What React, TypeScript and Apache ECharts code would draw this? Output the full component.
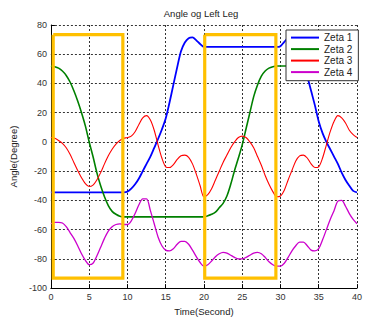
import React, { useEffect, useRef } from "react";
import * as echarts from "echarts";

const TITLE = "Angle og Left Leg";
const SERIES_NAMES = ["Zeta 1", "Zeta 2", "Zeta 3", "Zeta 4"];
const X_TICKS = { min: 0, max: 40, interval: 5 };
const Y_TICKS = { min: -100, max: 80, interval: 20 };

// sample times, every 0.5 s from 0 to 40
const TIME: number[] = Array.from({ length: 81 }, (_, i) => i * 0.5);

const ZETA1 = [
  -34.5, -34.5, -34.5, -34.5, -34.5, -34.5, -34.5, -34.5, -34.5, -34.5,
  -34.5, -34.5, -34.5, -34.5, -34.5, -34.5, -34.5, -34.5, -34.5, -34.5,
  -34, -32, -29, -25, -20, -15, -10, -4, 2, 8.5,
  16, 27, 39, 51, 62, 68, 71, 71.5, 69.5, 67,
  65, 65, 65, 65, 65, 65, 65, 65, 65, 65,
  65, 65, 65, 65, 65, 65, 65, 65, 65, 65,
  65.5, 68.5, 71, 71.5, 68, 62, 54, 45, 35, 25,
  14, 6, 0, -5, -10, -15, -21, -26, -30, -33.5,
  -34.5,
];

const ZETA2 = [
  52, 51.5, 50.5, 48.5, 45.5, 41, 35, 28, 20, 11,
  0, -10, -21, -30, -37.5, -43.5, -47.5, -49.5, -50.8, -51.3,
  -51.3, -51.3, -51.3, -51.3, -51.3, -51.3, -51.3, -51.3, -51.3, -51.3,
  -51.3, -51.3, -51.3, -51.3, -51.3, -51.3, -51.3, -51.3, -51.3, -51.3,
  -51.3, -50.5, -49.5, -48, -45, -42, -37, -29, -19.5, -11,
  -2, 9, 20, 31, 39, 45, 48.5, 50.5, 51.5, 52,
  52, 52, 52, 52, 52, 52, 52, 52, 52, 52,
  52, 52, 52, 52, 52, 52, 52, 52, 52, 52,
  52,
];

const ZETA3 = [
  3, 2.5, 1, -1, -4, -8.5, -14, -19.5, -24.5, -28.5,
  -30.5, -29.5, -26, -21, -15, -9.5, -5, -1.5, 1, 2.5,
  3, 4, 7, 12, 16.5, 18, 15, 8, -2, -11,
  -17, -17.5, -15.5, -12, -9.5, -9, -10.5, -15, -22, -30,
  -37.5, -36, -32, -26, -20, -14, -9, -4, 0, 3,
  4, 3, 0, -4, -10, -16, -23, -29, -34, -37.5,
  -37, -33, -26, -19.5, -13, -9.5, -9, -11, -15, -17.5,
  -17, -11, -2, 7, 14, 18, 16.5, 13, 8, 5,
  3,
];

const ZETA4 = [
  -56, -55, -55, -55.5, -58, -62, -66, -71, -76.5, -81,
  -84, -83, -78, -72, -66, -61, -58, -56.5, -56, -56.5,
  -56.5, -54, -49, -43, -39, -39, -47, -56, -65, -71,
  -74, -74.5, -73, -70, -68, -68, -70, -74, -78.5, -82.5,
  -85, -84, -81.5, -78.5, -76.5, -75.5, -76, -77.5, -79, -80,
  -80, -79, -77.5, -76, -75.5, -76.5, -79, -82, -84, -85,
  -85, -83, -79, -74.5, -71, -68.5, -68.5, -71, -74, -74.5,
  -73, -67, -60, -53, -47, -40.5, -40, -44, -49, -53,
  -56,
];

// highlighted windows: [xStart, xEnd, yBottom, yTop]
const BOXES = [
  [0.3, 9.4, -93.2, 73.4],
  [20.1, 29.4, -93.2, 73.4],
];

const COLORS = ["#0000FF", "#008000", "#FF0000", "#CC00CC"];
const WIDTHS = [1.8, 1.6, 1.1, 1.3];

const FONT = "'Liberation Sans', Arial, sans-serif";

export default function App() {
  const ref = useRef<HTMLDivElement>(null);
  useEffect(() => {
    document.body.style.margin = "0";
    const chart = echarts.init(ref.current!, null, { renderer: "svg" });
    const all = [ZETA1, ZETA2, ZETA3, ZETA4];
    const lineSeries = all.map((vals, k) => ({
      name: SERIES_NAMES[k],
      type: "line",
      data: vals.map((v, i) => [TIME[i], v]),
      symbol: "none",
      smooth: 0.3,
      lineStyle: { color: COLORS[k], width: WIDTHS[k] },
      itemStyle: { color: COLORS[k] },
      z: 2,
    }));
    const boxSeries = BOXES.map((b, k) => ({
      name: "box" + k,
      type: "line",
      data: [
        [b[0], b[3]],
        [b[1], b[3]],
        [b[1], b[2]],
        [b[0], b[2]],
        [b[0], b[3]],
      ],
      symbol: "none",
      lineStyle: { color: "#FFC000", width: 3.2, join: "miter" },
      z: 3,
      silent: true,
    }));
    chart.setOption({
      animation: false,
      backgroundColor: "#ffffff",
      textStyle: { fontFamily: FONT },
      title: {
        text: TITLE,
        left: 201,
        textAlign: "center",
        top: 8,
        padding: 0,
        textStyle: { fontSize: 9.5, fontWeight: "normal", color: "#222", fontFamily: FONT },
      },
      legend: {
        data: SERIES_NAMES,
        orient: "vertical",
        left: 286,
        top: 30,
        backgroundColor: "#ffffff",
        borderColor: "#333",
        borderWidth: 1,
        borderRadius: 0,
        padding: [2, 6, 3, 4],
        itemWidth: 28,
        itemHeight: 14,
        itemGap: 0.3,
        itemStyle: { opacity: 0 },
        lineStyle: { width: 2 },
        textStyle: { fontSize: 10, color: "#222", fontFamily: FONT },
      },
      grid: { left: 46, right: 8, top: 25, bottom: 31 },
      xAxis: {
        type: "value",
        min: X_TICKS.min,
        max: X_TICKS.max,
        interval: X_TICKS.interval,
        name: "Time(Second)",
        nameLocation: "middle",
        nameGap: 17,
        nameTextStyle: { fontSize: 9.5, color: "#222", fontFamily: FONT },
        axisLine: { onZero: false, lineStyle: { color: "#000", width: 1 } },
        axisTick: { inside: true, length: 4, lineStyle: { color: "#000" } },
        axisLabel: { fontSize: 9, color: "#333", margin: 4, fontFamily: FONT },
        splitLine: { show: true, lineStyle: { color: "#333", type: [2, 2], width: 1 } },
      },
      yAxis: {
        type: "value",
        min: Y_TICKS.min,
        max: Y_TICKS.max,
        interval: Y_TICKS.interval,
        name: "Angle(Degree)",
        nameLocation: "middle",
        nameGap: 27,
        nameTextStyle: { fontSize: 9.5, color: "#222", fontFamily: FONT },
        axisLine: { show: true, onZero: false, lineStyle: { color: "#000", width: 1 } },
        axisTick: { show: true, inside: true, length: 4, lineStyle: { color: "#000" } },
        axisLabel: { fontSize: 9, color: "#333", margin: 4, fontFamily: FONT },
        splitLine: { show: true, lineStyle: { color: "#333", type: [2, 2], width: 1 } },
      },
      series: [...lineSeries, ...boxSeries],
    });
    return () => chart.dispose();
  }, []);
  return (
    <div
      ref={ref}
      style={{ position: "absolute", left: 0, top: 0, width: 365, height: 321 }}
    />
  );
}
